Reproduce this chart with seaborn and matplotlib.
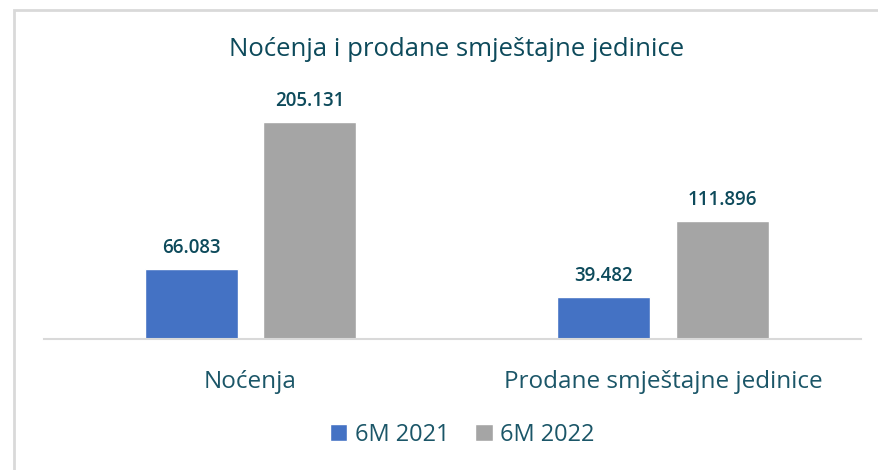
import matplotlib
matplotlib.use("Agg")
import matplotlib.pyplot as plt
import seaborn as sns
import pandas as pd
from matplotlib.patches import Rectangle

categories = ["Noćenja", "Prodane smještajne jedinice"]
series = ["6M 2021", "6M 2022"]
values_2021 = [66083, 39482]
values_2022 = [205131, 111896]
value_labels_2021 = ["66.083", "39.482"]
value_labels_2022 = ["205.131", "111.896"]
title = "Noćenja i prodane smještajne jedinice"

colors = ["#4472C4", "#A5A5A5"]
text_dark = "#0D4A5B"
text_mid = "#1B5668"

sns.set_theme(style="white")
plt.rcParams["font.family"] = ["Open Sans", "DejaVu Sans"]

df = pd.DataFrame({
    "cat": categories * 2,
    "series": [series[0]] * 2 + [series[1]] * 2,
    "value": values_2021 + values_2022,
    "label": value_labels_2021 + value_labels_2022,
})

W, H = 879, 470
fig = plt.figure(figsize=(W / 100, H / 100), dpi=100)
ax_left, ax_right = 44 / W, 861 / W
ax_bottom = 1 - 339 / H
ax_top = 1 - 80 / H
ax = fig.add_axes([ax_left, ax_bottom, ax_right - ax_left, ax_top - ax_bottom])

sns.barplot(data=df, x="cat", y="value", hue="series", palette=colors,
            width=0.573, gap=0.214, ax=ax, legend=True, saturation=1)

ax.set_xlim(-0.5, 1.48)
ax.set_ylim(0, 205131 * 259 / 217)

for cont, labs in zip(ax.containers, [value_labels_2021, value_labels_2022]):
    ax.bar_label(cont, labels=labs, padding=8, color=text_dark,
                 fontsize=13.5, fontweight="semibold")

for s in ["top", "right", "left"]:
    ax.spines[s].set_visible(False)
ax.spines["bottom"].set_color("#D9D9D9")
ax.spines["bottom"].set_linewidth(1.5)
ax.set_yticks([])
ax.set_xlabel("")
ax.set_ylabel("")
ax.tick_params(axis="x", length=0, pad=22, labelsize=17.5, labelcolor=text_mid)

leg = ax.legend(loc="center", bbox_to_anchor=(462 / W, 1 - 435 / H),
                bbox_transform=fig.transFigure, ncol=2, frameon=False,
                fontsize=17, handlelength=0.75, handleheight=0.75,
                handletextpad=0.3, columnspacing=1.1)
for t in leg.get_texts():
    t.set_color(text_mid)

fig.text(457 / W, 1 - 49 / H, title, ha="center", va="center",
         fontsize=18.5, color=text_dark)

fig.patches.append(Rectangle((14 / W, -0.1), 1.2, 1 - 10 / H + 0.1,
                             transform=fig.transFigure, fill=False,
                             edgecolor="#D9D9D9", linewidth=2))

fig.savefig("out.png", dpi=100)
